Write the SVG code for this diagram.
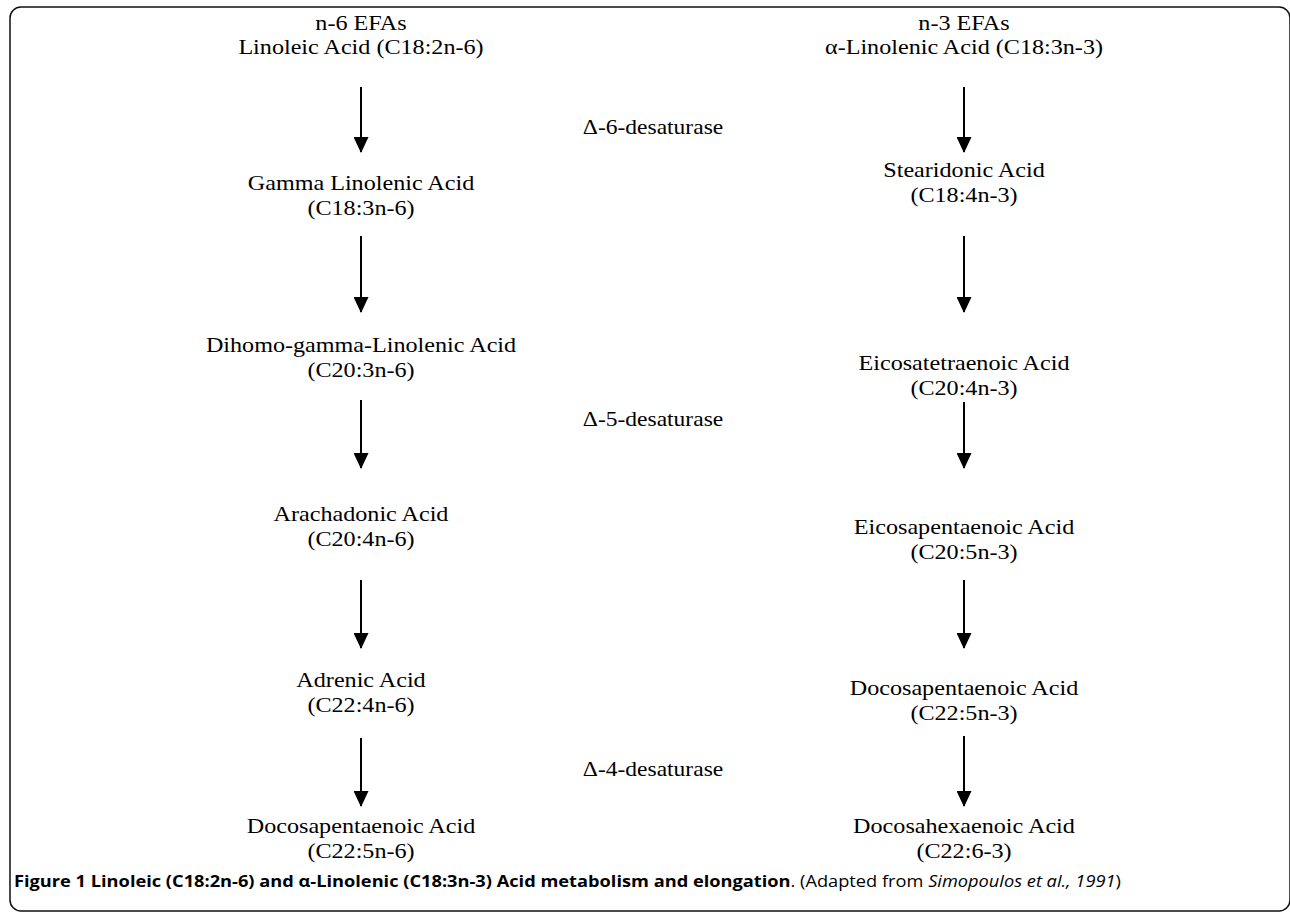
<svg xmlns="http://www.w3.org/2000/svg" width="1290" height="912" viewBox="0 0 1290 912">
<defs>
<style>
.t{font-family:"Liberation Serif","Times New Roman",serif;font-size:21px;fill:#000;text-anchor:middle}
.ln{stroke:#000;stroke-width:2;fill:none}
.cap{font-family:"Open Sans","Liberation Sans",sans-serif;font-size:16px;fill:#000}
</style>
<marker id="ah" markerWidth="16" markerHeight="15" refX="15" refY="7.5" orient="auto" markerUnits="userSpaceOnUse" viewBox="0 0 16 15">
<path d="M0,0 L16,7.5 L0,15 Z" fill="#000"/>
</marker>
</defs>
<rect x="10" y="7" width="1280" height="904" rx="11" fill="#fff" stroke="#111" stroke-width="1.5"/>
<g id="connectors">
<line class="ln" x1="361" y1="87" x2="361" y2="152" marker-end="url(#ah)"/>
<line class="ln" x1="361" y1="236" x2="361" y2="312" marker-end="url(#ah)"/>
<line class="ln" x1="361" y1="400" x2="361" y2="468" marker-end="url(#ah)"/>
<line class="ln" x1="361" y1="580" x2="361" y2="648" marker-end="url(#ah)"/>
<line class="ln" x1="361" y1="738" x2="361" y2="806" marker-end="url(#ah)"/>
<line class="ln" x1="964" y1="87" x2="964" y2="152" marker-end="url(#ah)"/>
<line class="ln" x1="964" y1="236" x2="964" y2="312" marker-end="url(#ah)"/>
<line class="ln" x1="964" y1="402" x2="964" y2="468" marker-end="url(#ah)"/>
<line class="ln" x1="964" y1="580" x2="964" y2="648" marker-end="url(#ah)"/>
<line class="ln" x1="964" y1="736" x2="964" y2="806" marker-end="url(#ah)"/>
</g>
<g id="n6-lin"><text class="t" transform="translate(361 30) scale(1.15 1)">n-6 EFAs</text><text class="t" transform="translate(361 54) scale(1.15 1)">Linoleic Acid (C18:2n-6)</text></g>
<g id="n6-gla"><text class="t" transform="translate(361 190) scale(1.15 1)">Gamma Linolenic Acid</text><text class="t" transform="translate(361 215) scale(1.15 1)">(C18:3n-6)</text></g>
<g id="n6-dgla"><text class="t" transform="translate(361 352) scale(1.15 1)">Dihomo-gamma-Linolenic Acid</text><text class="t" transform="translate(361 377) scale(1.15 1)">(C20:3n-6)</text></g>
<g id="n6-aa"><text class="t" transform="translate(361 521) scale(1.15 1)">Arachadonic Acid</text><text class="t" transform="translate(361 546) scale(1.15 1)">(C20:4n-6)</text></g>
<g id="n6-adr"><text class="t" transform="translate(361 687) scale(1.15 1)">Adrenic Acid</text><text class="t" transform="translate(361 712) scale(1.15 1)">(C22:4n-6)</text></g>
<g id="n6-dpa"><text class="t" transform="translate(361 833) scale(1.15 1)">Docosapentaenoic Acid</text><text class="t" transform="translate(361 858) scale(1.15 1)">(C22:5n-6)</text></g>
<g id="n3-ala"><text class="t" transform="translate(964 30) scale(1.15 1)">n-3 EFAs</text><text class="t" transform="translate(964 54) scale(1.15 1)">α-Linolenic Acid (C18:3n-3)</text></g>
<g id="n3-sda"><text class="t" transform="translate(964 177) scale(1.15 1)">Stearidonic Acid</text><text class="t" transform="translate(964 202) scale(1.15 1)">(C18:4n-3)</text></g>
<g id="n3-eta"><text class="t" transform="translate(964 370) scale(1.15 1)">Eicosatetraenoic Acid</text><text class="t" transform="translate(964 395) scale(1.15 1)">(C20:4n-3)</text></g>
<g id="n3-epa"><text class="t" transform="translate(964 534) scale(1.15 1)">Eicosapentaenoic Acid</text><text class="t" transform="translate(964 559) scale(1.15 1)">(C20:5n-3)</text></g>
<g id="n3-dpa"><text class="t" transform="translate(964 695) scale(1.15 1)">Docosapentaenoic Acid</text><text class="t" transform="translate(964 720) scale(1.15 1)">(C22:5n-3)</text></g>
<g id="n3-dha"><text class="t" transform="translate(964 833) scale(1.15 1)">Docosahexaenoic Acid</text><text class="t" transform="translate(964 858) scale(1.15 1)">(C22:6-3)</text></g>
<g id="d6"><text class="t" transform="translate(653 134) scale(1.12 1)">Δ-6-desaturase</text></g>
<g id="d5"><text class="t" transform="translate(653 426) scale(1.12 1)">Δ-5-desaturase</text></g>
<g id="d4"><text class="t" transform="translate(653 776) scale(1.12 1)">Δ-4-desaturase</text></g>
<g id="caption"><text class="cap" transform="translate(14 887) scale(1.14 1)"><tspan font-weight="bold">Figure 1 Linoleic (C18:2n-6) and α-Linolenic (C18:3n-3) Acid metabolism and elongation</tspan>. (Adapted from <tspan font-style="italic">Simopoulos et al., 1991</tspan>)</text></g>
</svg>
